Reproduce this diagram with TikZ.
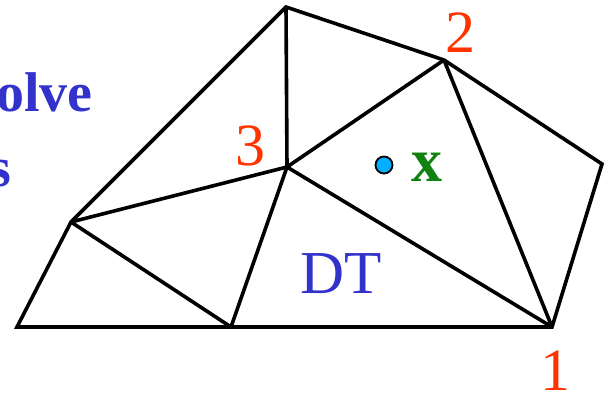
\documentclass[tikz,border=0pt]{standalone}
\usepackage{fontspec}
\setmainfont{Liberation Serif}
\newcommand{\sizept}[1]{\fontsize{#1}{#1}\selectfont}
\definecolor{dtblue}{RGB}{51,51,204}
\definecolor{ptgreen}{RGB}{17,130,17}
\definecolor{ptcyan}{RGB}{0,175,255}
\definecolor{numred}{RGB}{255,51,0}
\tikzset{
  mesh/.style={line width=3.6pt},
  lbl/.style={inner sep=0pt,anchor=base,text=numred,font=\sizept{60}},
}
\begin{document}
\begin{tikzpicture}[x=1pt,y=-1pt]
  \useasboundingbox (0,0) rectangle (605,395);
  \clip (0,0) rectangle (605,395);
  % vertices of the mesh
  \coordinate (a) at (17,327);
  \coordinate (b) at (231,327);
  \coordinate (p1) at (552,327);
  \coordinate (d) at (602,164);
  \coordinate (p2) at (444,60);
  \coordinate (f) at (286,7);
  \coordinate (p3) at (287,167);
  \coordinate (h) at (71,222);
  % outer boundary and inner edges
  \draw[mesh] (a) -- (b) -- (p1) -- (d) -- (p2) -- (f) -- (h) -- cycle;
  \draw[mesh] (h) -- (b);
  \draw[mesh] (h) -- (p3);
  \draw[mesh] (f) -- (p3);
  \draw[mesh] (p3) -- (p2);
  \draw[mesh] (p3) -- (b);
  \draw[mesh] (p3) -- (p1);
  \draw[mesh] (p2) -- (p1);
  % query point
  \node[circle,draw,line width=1.8pt,fill=ptcyan,minimum size=17pt,inner sep=0pt] (q) at (384,165) {};
  \node[inner sep=0pt,anchor=base,text=ptgreen,font=\sizept{62}\bfseries] (qx) at (427,182) {x};
  % labels
  \node[lbl] (n1) at (555,390) {1};
  \node[lbl] (n2) at (460,53) {2};
  \node[lbl] (n3) at (250,166) {3};
  \node[inner sep=0pt,anchor=base,text=dtblue,font=\sizept{61}] (dt) at (341,294) {DT};
  % cut off title
  \node[inner sep=0pt,anchor=base east,text=dtblue,font=\sizept{56}\bfseries] (t1) at (93,112) {olve};
  \node[inner sep=0pt,anchor=base east,text=dtblue,font=\sizept{56}\bfseries] (t2) at (11,187) {s};
\end{tikzpicture}
\end{document}
